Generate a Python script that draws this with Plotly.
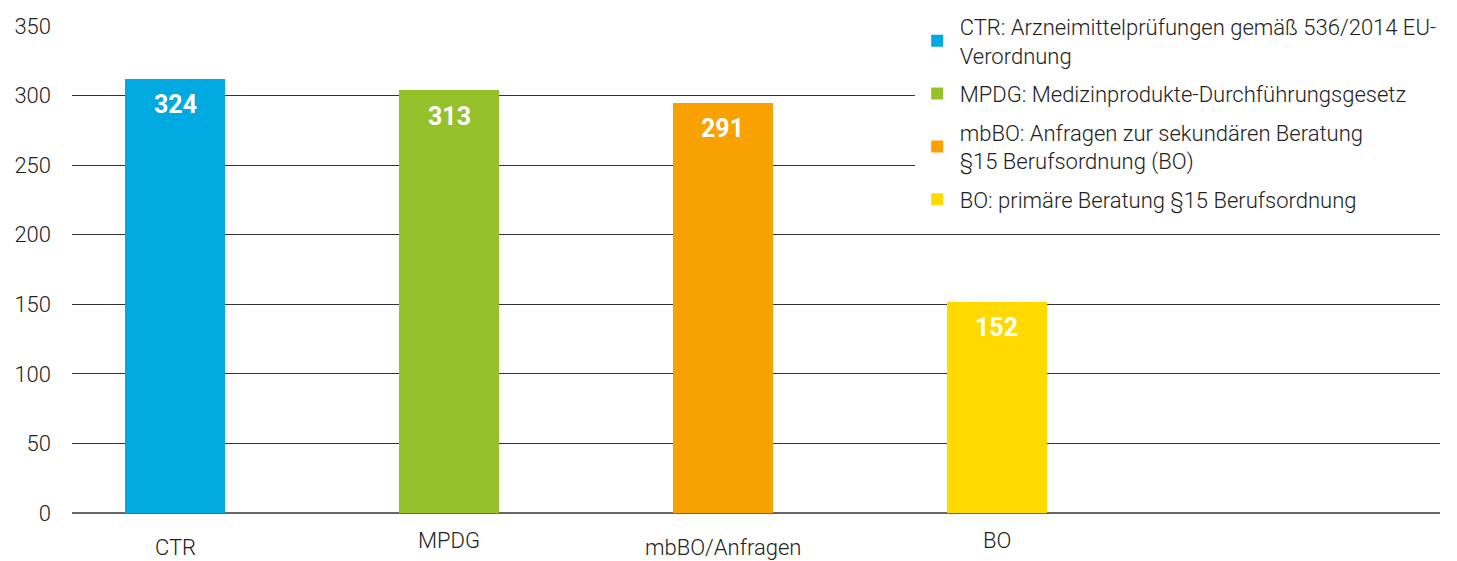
import plotly.graph_objects as go

categories = ["CTR", "MPDG", "mbBO/Anfragen", "BO"]
bar_values = [312, 304, 295, 152]
label_values = [324, 313, 291, 152]
legend_names = [
    "CTR: Arzneimittelprüfungen gemäß 536/2014 EU-<br>Verordnung",
    "MPDG: Medizinprodukte-Durchführungsgesetz",
    "mbBO: Anfragen zur sekundären Beratung<br>§15 Berufsordnung (BO)",
    "BO: primäre Beratung §15 Berufsordnung",
]
colors = ["#00A9E0", "#95C12B", "#F9A100", "#FFD900"]
label_offsets = [-34, -27, -34, -27]

FONT = "Roboto"
fig = go.Figure()
for i, cat in enumerate(categories):
    fig.add_trace(go.Bar(
        x=[i], y=[bar_values[i]], name=legend_names[i],
        marker=dict(color=colors[i], line=dict(width=0)),
        width=0.365, legendgroup=str(i), showlegend=True,
        hoverinfo="skip",
    ))
    fig.add_annotation(x=i, y=bar_values[i], text=f"<b>{label_values[i]}</b>",
                       showarrow=False, yshift=-26, xref="x", yref="y",
                       font=dict(family=FONT, size=25, color="white"))
    fig.add_annotation(x=i, y=0, text=cat, showarrow=False, yshift=label_offsets[i],
                       xref="x", yref="y",
                       font=dict(family=FONT, size=22, color="#222", weight=300))

fig.update_layout(
    width=1457, height=561,
    margin=dict(l=72, r=17, t=26, b=48, autoexpand=False),
    paper_bgcolor="white", plot_bgcolor="white",
    bargap=0,
    font=dict(family=FONT, size=22, color="#222"),
    xaxis=dict(range=[-0.376, 4.617], showticklabels=False, showgrid=False,
               zeroline=False, showline=False, ticks=""),
    yaxis=dict(range=[0, 350], dtick=50, showgrid=True, gridcolor="#333", gridwidth=1,
               zeroline=True, zerolinecolor="#666", zerolinewidth=2,
               tickfont=dict(family=FONT, size=22, color="#222", weight=300),
               ticklabelstandoff=20, showline=False, ticks=""),
    legend=dict(x=0.616, y=1.042, xanchor="left", yanchor="top", bgcolor="white",
                font=dict(family=FONT, size=22, color="#222", weight=300),
                tracegroupgap=7, itemwidth=35, itemclick=False, itemdoubleclick=False,
                traceorder="grouped"),
    showlegend=True,
)
fig.write_html("out.html", config={"displayModeBar": False},
               post_script="document.body.style.margin='0';")
